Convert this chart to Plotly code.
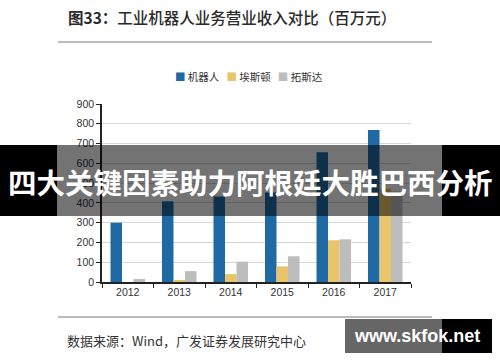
import plotly.graph_objects as go

years = ["2012", "2013", "2014", "2015", "2016", "2017"]
series_names = ["机器人", "埃斯顿", "拓斯达"]
robot = [300, 408, 432, 452, 656, 768]
estun = [0, 10, 40, 79, 211, 472]
topstar = [15, 55, 103, 130, 216, 458]
colors = ["#1f6aa5", "#e8c46a", "#bdbdbd"]
y_ticks = [0, 100, 200, 300, 400, 500, 600, 700, 800, 900]

title_text = "<b>图33：</b>工业机器人业务营业收入对比（百万元）"
source_text = "数据来源：Wind，广发证券发展研究中心"
banner_text = "四大关键因素助力阿根廷大胜巴西分析"
watermark_text = "www.skfok.net"

W, H = 500, 362
L, R, T, B = 102, 411, 104, 282


def px(x):
    return (x - L) / (R - L)


def py(y):
    return (B - y) / (B - T)


fig = go.Figure()
for name, vals, col in zip(series_names, [robot, estun, topstar], colors):
    fig.add_trace(go.Bar(x=years, y=vals, name=name, marker=dict(color=col, line=dict(width=0)),
                         showlegend=False))

cjk = "Noto Sans CJK SC"
fig.update_layout(
    width=W, height=H,
    margin=dict(l=L, r=W - R, t=T, b=H - B, pad=0),
    paper_bgcolor="white", plot_bgcolor="white",
    barmode="group", bargap=0.33, bargroupgap=0,
    font=dict(family="Liberation Sans, Arial", size=10, color="#333"),
)
fig.update_xaxes(type="category", showline=True, linecolor="#222", linewidth=1.5,
                 ticks="outside", tickson="boundaries", ticklen=4, tickcolor="#222",
                 tickfont=dict(size=10.5, color="#333"), showgrid=False)
fig.update_yaxes(range=[0, 900], tickvals=y_ticks, showline=True, linecolor="#222", linewidth=1.5,
                 ticks="outside", ticklen=4, tickcolor="#222", gridcolor="#d6d6d6", gridwidth=1,
                 tickfont=dict(size=10.5, color="#333"), zeroline=False)

shapes = []
# rules above and below the chart
for yy in (42, 317):
    shapes.append(dict(type="line", xref="paper", yref="paper", x0=px(58), x1=px(432), y0=py(yy), y1=py(yy),
                       line=dict(color="#777", width=1)))
# banner
shapes.append(dict(type="rect", xref="paper", yref="paper", x0=px(0), x1=px(57), y0=py(216), y1=py(145),
                   fillcolor="black", line=dict(width=0), layer="above"))
shapes.append(dict(type="rect", xref="paper", yref="paper", x0=px(57), x1=px(442), y0=py(216), y1=py(145),
                   fillcolor="rgba(0,0,0,0.55)", line=dict(width=0), layer="above"))
shapes.append(dict(type="rect", xref="paper", yref="paper", x0=px(442), x1=px(500), y0=py(216), y1=py(145),
                   fillcolor="black", line=dict(width=0), layer="above"))
# watermark box
shapes.append(dict(type="rect", xref="paper", yref="paper", x0=px(345), x1=px(442), y0=py(353), y1=py(319),
                   fillcolor="rgba(0,0,0,0.6)", line=dict(width=0), layer="above"))
shapes.append(dict(type="rect", xref="paper", yref="paper", x0=px(442), x1=px(492), y0=py(353), y1=py(319),
                   fillcolor="black", line=dict(width=0), layer="above"))
fig.update_layout(shapes=shapes)

legend_html = "   ".join(
    f"<span style='color:{c}'>■</span><span style='color:#333'> {n}</span>" for n, c in zip(series_names, colors)
)

annotations = [
    dict(text=title_text, xref="paper", yref="paper", x=px(66), y=py(17), xanchor="left", yanchor="middle",
         showarrow=False, font=dict(family=cjk, size=15.5, color="#2a2a2a", weight=500)),
    dict(text=legend_html, xref="paper", yref="paper", x=px(249), y=py(76), xanchor="center", yanchor="middle",
         showarrow=False, font=dict(family=cjk, size=10.5, color="#333")),
    dict(text=source_text, xref="paper", yref="paper", x=px(65), y=py(340), xanchor="left", yanchor="middle",
         showarrow=False, font=dict(family=cjk, size=13, color="#333")),
    dict(text=f"<b>{banner_text}</b>", xref="paper", yref="paper", x=px(250), y=py(181), xanchor="center",
         yanchor="middle", showarrow=False, font=dict(family=cjk, size=28.5, color="white")),
    dict(text=f"<b>{watermark_text}</b>", xref="paper", yref="paper", x=px(417), y=py(336), xanchor="center",
         yanchor="middle", showarrow=False, font=dict(family="Liberation Sans, Arial", size=18, color="white")),
]
fig.update_layout(annotations=annotations)

fig.write_html("out.html", config={"displayModeBar": False},
               post_script="document.body.style.margin='0';document.body.style.padding='0';")
